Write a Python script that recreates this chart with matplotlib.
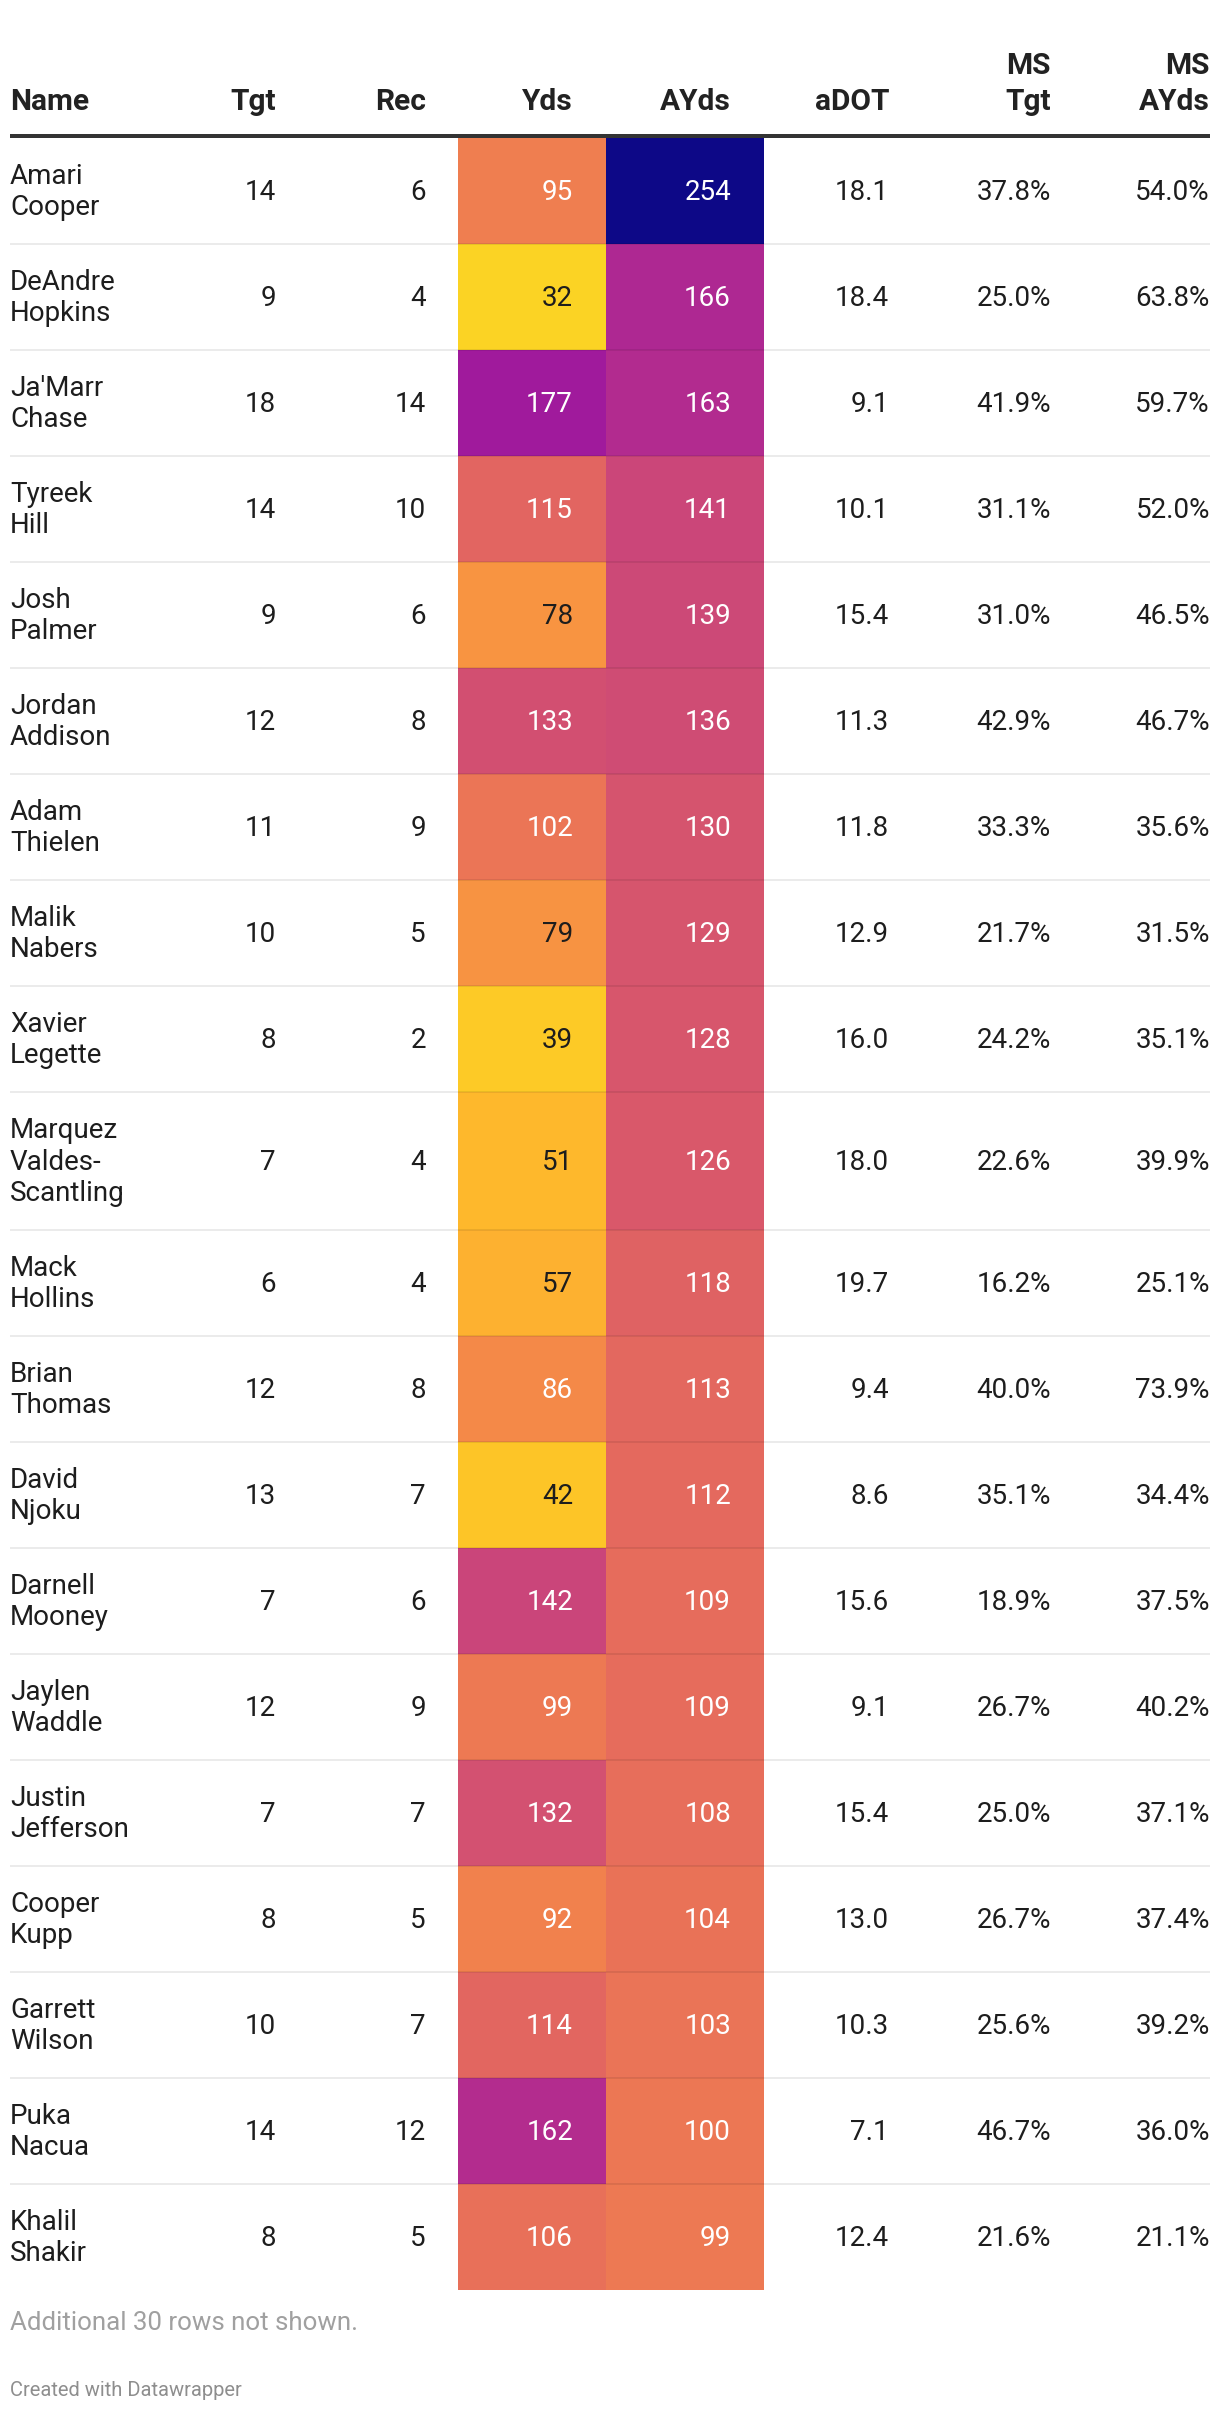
import numpy as np
import matplotlib
matplotlib.use("Agg")
import matplotlib.pyplot as plt
from matplotlib.colors import PowerNorm, to_rgb

plt.rcParams['font.family'] = ['Roboto', 'DejaVu Sans']

# table data
names = ["Amari\nCooper", "DeAndre\nHopkins", "Ja'Marr\nChase", "Tyreek\nHill", "Josh\nPalmer",
         "Jordan\nAddison", "Adam\nThielen", "Malik\nNabers", "Xavier\nLegette",
         "Marquez\nValdes-\nScantling", "Mack\nHollins", "Brian\nThomas", "David\nNjoku",
         "Darnell\nMooney", "Jaylen\nWaddle", "Justin\nJefferson", "Cooper\nKupp",
         "Garrett\nWilson", "Puka\nNacua", "Khalil\nShakir"]
tgt = [14, 9, 18, 14, 9, 12, 11, 10, 8, 7, 6, 12, 13, 7, 12, 7, 8, 10, 14, 8]
rec = [6, 4, 14, 10, 6, 8, 9, 5, 2, 4, 4, 8, 7, 6, 9, 7, 5, 7, 12, 5]
yds = [95, 32, 177, 115, 78, 133, 102, 79, 39, 51, 57, 86, 42, 142, 99, 132, 92, 114, 162, 106]
ayds = [254, 166, 163, 141, 139, 136, 130, 129, 128, 126, 118, 113, 112, 109, 109, 108, 104, 103, 100, 99]
adot = [18.1, 18.4, 9.1, 10.1, 15.4, 11.3, 11.8, 12.9, 16.0, 18.0, 19.7, 9.4, 8.6, 15.6, 9.1, 15.4,
        13.0, 10.3, 7.1, 12.4]
ms_tgt = [37.8, 25.0, 41.9, 31.1, 31.0, 42.9, 33.3, 21.7, 24.2, 22.6, 16.2, 40.0, 35.1, 18.9, 26.7,
          25.0, 26.7, 25.6, 46.7, 21.6]
ms_ayds = [54.0, 63.8, 59.7, 52.0, 46.5, 46.7, 35.6, 31.5, 35.1, 39.9, 25.1, 73.9, 34.4, 37.5, 40.2,
           37.1, 37.4, 39.2, 36.0, 21.1]
headers = ["Name", "Tgt", "Rec", "Yds", "AYds", "aDOT", "MS\nTgt", "MS\nAYds"]

W, H = 1220, 2414
fig = plt.figure(figsize=(W / 100, H / 100), dpi=100)
ax = fig.add_axes([0, 0, 1, 1])
ax.set_xlim(0, W)
ax.set_ylim(H, 0)
ax.axis('off')

FS = 20
HFS = 21.5
DARK = '#1d1d1d'
left, right = 10, 1210
col_right = [None, 276, 426, 573, 731, 889, 1051, 1210]

# header
for i, h in enumerate(headers):
    lines = h.split("\n")
    for k, ln in enumerate(reversed(lines)):
        y = 110.5 - 36 * k
        if i == 0:
            ax.text(left, y, ln, ha='left', va='baseline', fontsize=HFS, fontweight='bold', color='#222222')
        else:
            ax.text(col_right[i], y, ln, ha='right', va='baseline', fontsize=HFS, fontweight='bold', color='#222222')
ax.plot([left, right], [136, 136], color='#333333', lw=4 * 0.72, solid_capstyle='butt')

# row edges
nlines = [n.count("\n") + 1 for n in names]
heights = [42 + 32 * n for n in nlines]
edges = np.concatenate([[138], 138 + np.cumsum(heights)])
centers = (edges[:-1] + edges[1:]) / 2

# heat cells for Yds / AYds
norm = PowerNorm(gamma=1.17, vmin=0, vmax=254)
cmap = plt.get_cmap('plasma_r')
C = np.column_stack([yds, ayds])
ax.pcolormesh([458, 606, 764], edges, C, cmap=cmap, norm=norm, shading='flat')

def text_color(v):
    r, g, b = [c / 12.92 if c <= 0.03928 else ((c + 0.055) / 1.055) ** 2.4 for c in to_rgb(cmap(norm(v)))]
    lum = 0.2126 * r + 0.7152 * g + 0.0722 * b
    return DARK if lum > 0.385 else 'white'

for r in range(len(names)):
    cy = centers[r]
    lines = names[r].split("\n")
    n = len(lines)
    for k, ln in enumerate(lines):
        ax.text(left, cy + 8.5 + (k - (n - 1) / 2) * 31.8, ln, ha='left', va='baseline',
                fontsize=FS, color=DARK)
    by = cy + 8.5
    vals = [str(tgt[r]), str(rec[r]), str(yds[r]), str(ayds[r]), f"{adot[r]:.1f}",
            f"{ms_tgt[r]:.1f}%", f"{ms_ayds[r]:.1f}%"]
    colors = [DARK, DARK, text_color(yds[r]), text_color(ayds[r]), DARK, DARK, DARK]
    for j, (v, c) in enumerate(zip(vals, colors)):
        ax.text(col_right[j + 1], by, v, ha='right', va='baseline', fontsize=FS, color=c)
    if r < len(names) - 1:
        ax.plot([left, right], [edges[r + 1], edges[r + 1]], color=(0, 0, 0, 0.08), lw=2 * 0.72,
                solid_capstyle='butt')

ax.text(left, 2323, "Additional 30 rows not shown.", ha='left', va='center', fontsize=18.6, color='#a0a0a0')
ax.text(left, 2391, "Created with Datawrapper", ha='left', va='center', fontsize=14.5, color='#8e8e8e')

fig.savefig("out.png", dpi=100, facecolor='white')
